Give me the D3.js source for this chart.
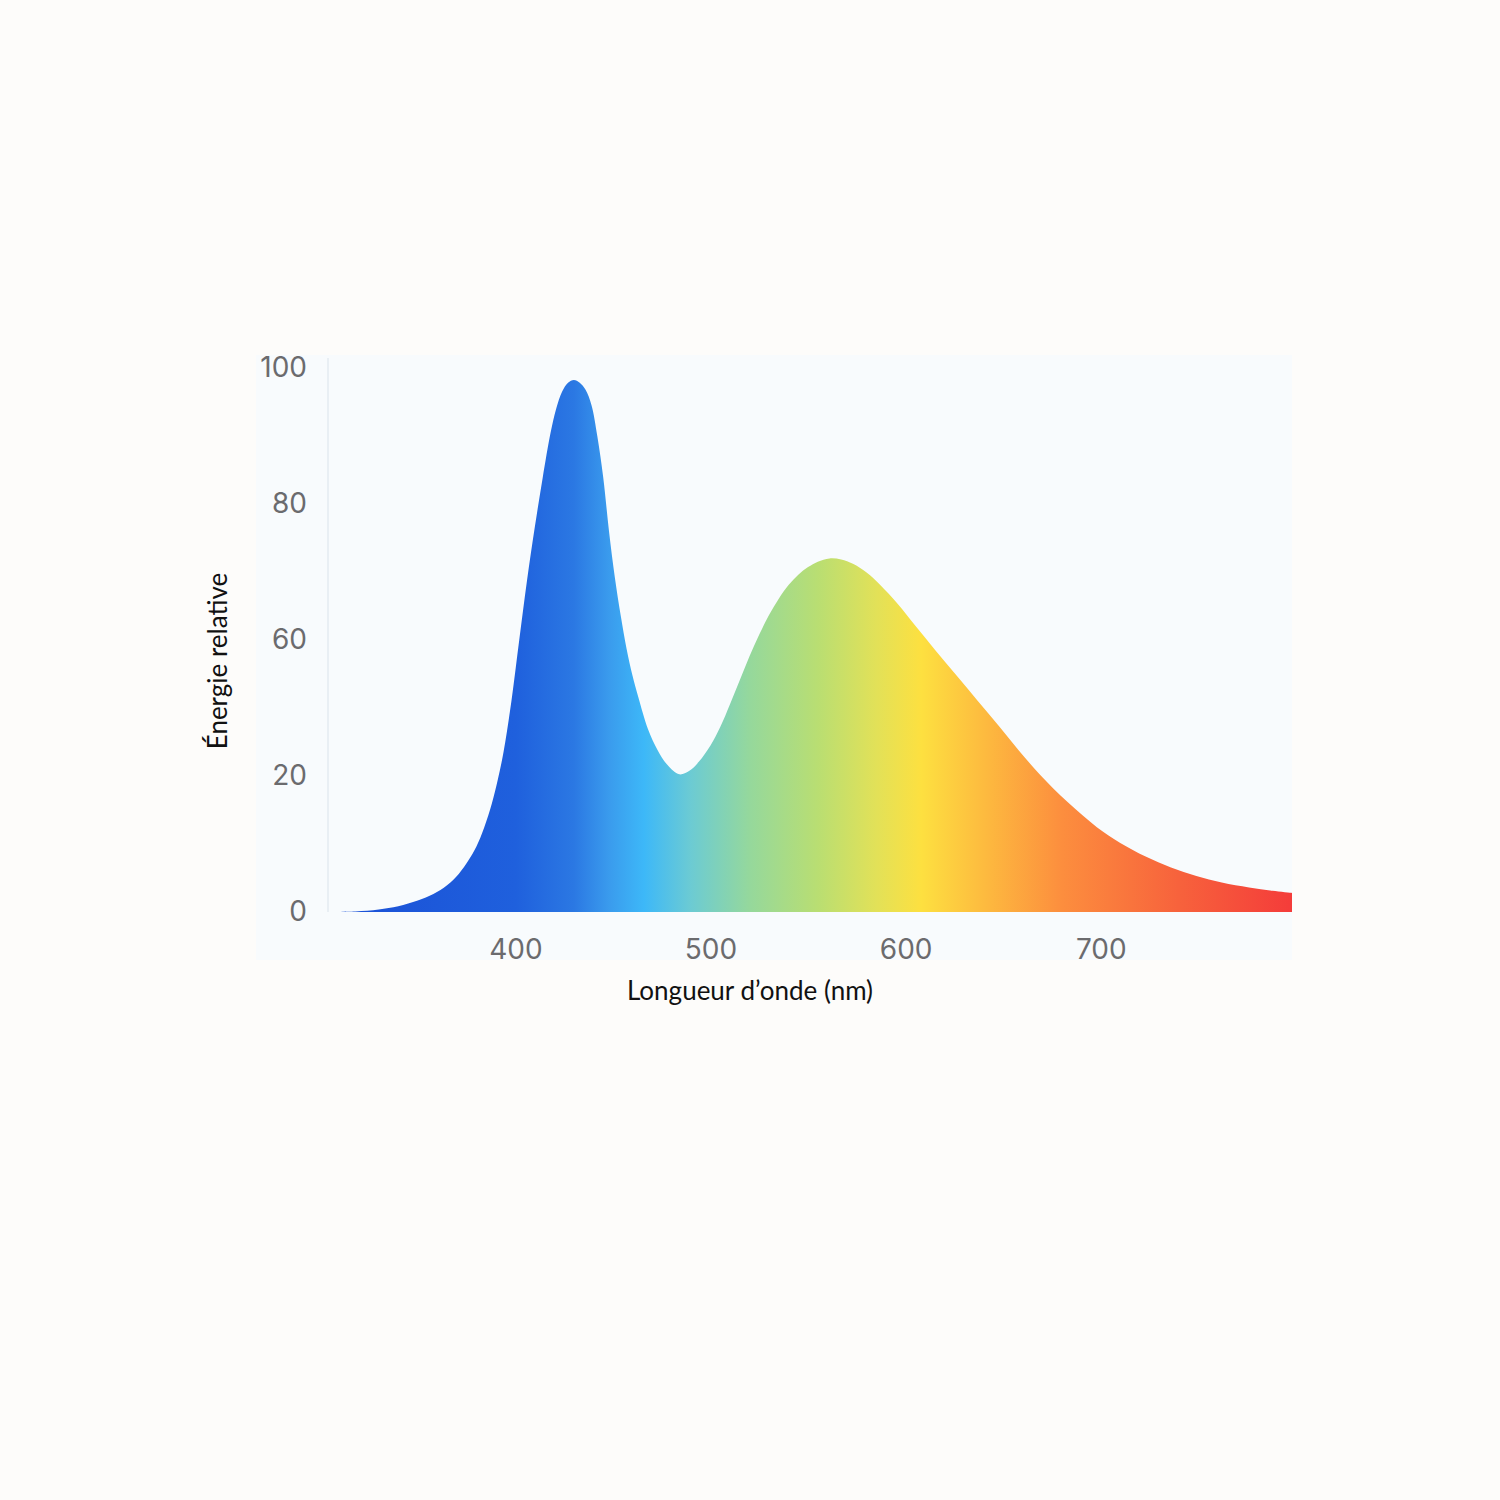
<!DOCTYPE html>
<html>
<head>
<meta charset="utf-8">
<script src="https://cdn.jsdelivr.net/npm/d3@7"></script>
<style>
  html, body { margin: 0; padding: 0; background: #fdfcfa; }
  svg { display: block; }
</style>
</head>
<body>
<svg id="chart" width="1500" height="1500"></svg>
<script>
// ---- data ----
const wavelengths = [304, 318, 330, 340, 350, 358, 365, 371, 376, 380, 384, 388, 391, 394, 398, 402, 406, 410, 414, 418, 421, 424, 427, 430, 433, 436, 439, 442, 445, 448, 451, 454, 457, 460, 463, 468, 473, 478, 484, 489, 494, 500, 505, 510, 515, 520, 525, 530, 535, 540, 545, 550, 555, 561, 567, 573, 580, 587, 596, 605, 615, 626, 637, 648, 658, 669, 683, 698, 710, 723, 736, 749, 762, 776, 788, 798];
const energy = [0, 0.1, 0.45, 1.05, 2.1, 3.3, 4.9, 7.0, 9.5, 12.0, 15.5, 20.0, 24.3, 29.5, 38.8, 50.0, 61.0, 70.8, 79.8, 88.0, 92.6, 95.7, 97.3, 97.8, 97.3, 96.0, 93.2, 87.5, 80.0, 70.0, 61.5, 54.5, 48.4, 43.5, 39.5, 33.6, 29.7, 27.0, 25.3, 25.9, 27.6, 30.6, 34.0, 38.2, 42.6, 47.0, 51.0, 54.6, 57.6, 60.1, 62.0, 63.4, 64.4, 65.0, 64.8, 64.0, 62.4, 60.1, 56.6, 52.6, 48.2, 43.5, 38.8, 34.1, 29.7, 25.2, 20.2, 15.6, 12.7, 10.2, 8.2, 6.6, 5.4, 4.5, 3.9, 3.5];
const xTicks = [400, 500, 600, 700];
const yTickLabels = ["0", "20", "60", "80", "100"];
const gradientNm = [304, 400, 430, 448, 466, 490, 520, 555, 585, 608, 640, 680, 740, 798];
const gradientColors = ["#1a4fd6", "#1f60dd", "#2b78e3", "#3a9bed", "#3db8f8", "#6ccbd3", "#95d89c", "#b9de72", "#e2e158", "#fde040", "#fdbb3f", "#fc8e3e", "#f7623c", "#f43c3a"];
const xTitle = "Longueur d\u2019onde (nm)";
const yTitle = "\u00c9nergie relative";

// ---- layout ----
const svg = d3.select("#chart");
const x = d3.scaleLinear().domain([304, 798]).range([328, 1292]);
const y = d3.scaleLinear().domain([0, 100]).range([912, 368]);
const yTickPos = d3.scaleLinear().domain([0, yTickLabels.length - 1]).range([y(0) - 1, y(100) - 1]);

// panel background
svg.append("rect")
  .attr("x", 256).attr("y", 355)
  .attr("width", 1036).attr("height", 605)
  .attr("fill", "#f8fbfd");

// gradient
const defs = svg.append("defs");
const grad = defs.append("linearGradient")
  .attr("id", "spectrum")
  .attr("gradientUnits", "userSpaceOnUse")
  .attr("x1", x(304)).attr("x2", x(798))
  .attr("y1", 0).attr("y2", 0);
grad.selectAll("stop")
  .data(gradientNm)
  .join("stop")
  .attr("offset", d => (x(d) - x(304)) / (x(798) - x(304)))
  .attr("stop-color", (d, i) => gradientColors[i]);

// y axis line
svg.append("line")
  .attr("x1", 328).attr("x2", 328)
  .attr("y1", 358).attr("y2", 912)
  .attr("stroke", "#e4ebf0").attr("stroke-width", 1.5);

// area
const pts = wavelengths.map((w, i) => ({ w, v: energy[i] }));
const area = d3.area()
  .x(d => x(d.w))
  .y0(y(0))
  .y1(d => y(Math.max(0, d.v)))
  .curve(d3.curveCatmullRom.alpha(0.5));
svg.append("path")
  .datum(pts)
  .attr("d", area)
  .attr("fill", "url(#spectrum)");

// axes
const xAxis = svg.append("g")
  .attr("transform", `translate(0,${y(0)})`)
  .call(d3.axisBottom(x).tickValues(xTicks).tickSize(0).tickPadding(27).tickFormat(d3.format("d")));
xAxis.select(".domain").remove();
xAxis.selectAll("text")
  .attr("font-family", "Inter, 'Noto Sans', sans-serif")
  .attr("font-size", 28)
  .attr("fill", "#6b6b6e");

const yAxis = svg.append("g")
  .attr("transform", `translate(328,1)`)
  .call(d3.axisLeft(yTickPos).tickValues(d3.range(yTickLabels.length)).tickSize(0).tickPadding(21).tickFormat(i => yTickLabels[i]));
yAxis.select(".domain").remove();
yAxis.selectAll("text")
  .attr("font-family", "Inter, 'Noto Sans', sans-serif")
  .attr("font-size", 28)
  .attr("fill", "#6b6b6e");

// titles
svg.append("text")
  .attr("x", 750).attr("y", 1000)
  .attr("text-anchor", "middle")
  .attr("font-family", "Lato, sans-serif")
  .attr("font-size", 26)
  .attr("fill", "#111")
  .text(xTitle);

svg.append("text")
  .attr("transform", "translate(227,661) rotate(-90)")
  .attr("text-anchor", "middle")
  .attr("font-family", "Lato, sans-serif")
  .attr("font-size", 26)
  .attr("fill", "#111")
  .text(yTitle);
</script>
</body>
</html>
